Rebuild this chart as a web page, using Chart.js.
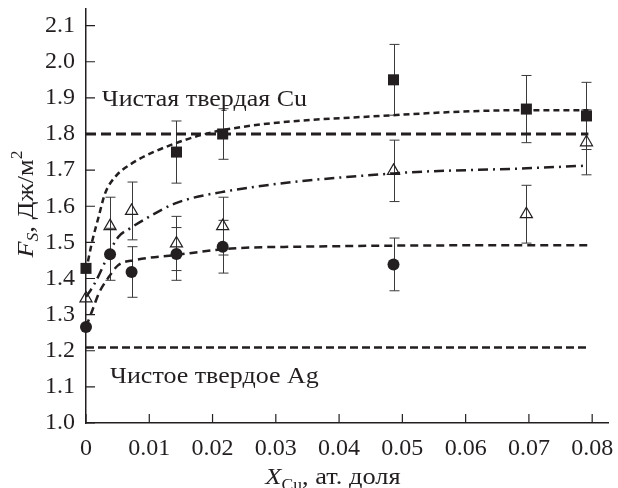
<!DOCTYPE html>
<html lang="ru">
<head>
<meta charset="UTF-8">
<title>F_S vs X_Cu</title>
<script src="https://cdn.jsdelivr.net/npm/chart.js"></script>
<style>
  html, body { margin: 0; padding: 0; background: #fff; }
</style>
</head>
<body>
<canvas id="chart" width="618" height="488"></canvas>
<script>
// axis ticks
const xTicks = [0, 0.01, 0.02, 0.03, 0.04, 0.05, 0.06, 0.07, 0.08];
const yTicks = [1.0, 1.1, 1.2, 1.3, 1.4, 1.5, 1.6, 1.7, 1.8, 1.9, 2.0, 2.1];

// measured points (squares, triangles, circles) with error half-widths
const sqX = [0, 0.0143, 0.0216, 0.0486, 0.0696, 0.0791];
const sqY = [1.428, 1.75, 1.80, 1.95, 1.869, 1.85];
const sqErr = [0, 0.086, 0.07, 0.098, 0.093, 0.093];

const triX = [0, 0.0038, 0.0072, 0.0143, 0.0216, 0.0486, 0.0696, 0.0791];
const triY = [1.345, 1.545, 1.587, 1.497, 1.545, 1.698, 1.578, 1.777];
const triErr = [0, 0.08, 0.08, 0.075, 0.08, 0.085, 0.08, 0.09];

const ciX = [0, 0.0038, 0.0072, 0.0143, 0.0216, 0.0486];
const ciY = [1.266, 1.467, 1.418, 1.468, 1.488, 1.439];
const ciErr = [0, 0.072, 0.07, 0.073, 0.073, 0.073];

// fitted curves
const sqFitX = [0, 0.0009, 0.002, 0.003, 0.0046, 0.0072, 0.0141, 0.0217, 0.0486, 0.0696, 0.0794];
const sqFitY = [1.42, 1.497, 1.571, 1.635, 1.681, 1.718, 1.774, 1.811, 1.852, 1.866, 1.866];

const triFitX = [0, 0.0012, 0.0051, 0.0069, 0.0095, 0.0141, 0.0217, 0.0486, 0.0696, 0.0786];
const triFitY = [1.349, 1.381, 1.515, 1.538, 1.566, 1.608, 1.640, 1.691, 1.705, 1.712];

const ciFitX = [0, 0.0012, 0.002, 0.0036, 0.0051, 0.0077, 0.0141, 0.023, 0.0338, 0.0705, 0.0794];
const ciFitY = [1.266, 1.321, 1.358, 1.404, 1.437, 1.451, 1.465, 1.483, 1.488, 1.492, 1.492];

// pure metal reference levels
const refX = [0, 0.0794];
const cuLevel = [1.80, 1.80];
const agLevel = [1.209, 1.209];
const refLabels = ['Чистая твердая Cu', 'Чистое твердое Ag'];
const refLabelX = [0.0025, 0.0038];
const refLabelY = [1.894, 1.127];

const INK = '#231f20';
const SERIF = "'Liberation Serif', serif";

function pts(xs, ys) {
    return xs.map((v, i) => ({ x: v, y: ys[i] }));
}

function curve(xs, ys, dash, width) {
    return {
        data: pts(xs, ys),
        showLine: true,
        borderColor: INK,
        borderWidth: width,
        borderDash: dash,
        pointRadius: 0,
        cubicInterpolationMode: 'monotone',
        fill: false,
        clip: false
    };
}

// draws text stretched horizontally (the figure's serif face is a bit wider)
function wideText(ctx, text, x0, y0, sx) {
    ctx.save();
    ctx.translate(x0, y0);
    ctx.scale(sx, 1);
    ctx.fillText(text, 0, 0);
    const w = ctx.measureText(text).width * sx;
    ctx.restore();
    return w;
}

const decor = {
    id: 'decor',
    beforeDatasetsDraw(chart) {
        const { ctx, scales: { x, y } } = chart;
        ctx.save();
        ctx.strokeStyle = '#3a3a3a';
        ctx.lineWidth = 1;
        [[sqX, sqY, sqErr], [triX, triY, triErr], [ciX, ciY, ciErr]].forEach(([xs, ys, es]) => {
            xs.forEach((xv, i) => {
                if (!es[i]) return;
                const px = Math.round(x.getPixelForValue(xv)) + 0.5;
                const top = y.getPixelForValue(ys[i] + es[i]);
                const bot = y.getPixelForValue(ys[i] - es[i]);
                ctx.beginPath();
                ctx.moveTo(px, top); ctx.lineTo(px, bot);
                ctx.moveTo(px - 5, top); ctx.lineTo(px + 5, top);
                ctx.moveTo(px - 5, bot); ctx.lineTo(px + 5, bot);
                ctx.stroke();
            });
        });
        ctx.restore();
    },
    afterDraw(chart) {
        const { ctx, chartArea: a, scales: { x, y } } = chart;
        ctx.save();
        // inward tick marks
        ctx.strokeStyle = INK;
        ctx.lineWidth = 1.2;
        ctx.beginPath();
        yTicks.forEach(v => {
            const py = y.getPixelForValue(v);
            ctx.moveTo(a.left, py); ctx.lineTo(a.left + 9, py);
        });
        xTicks.forEach(v => {
            const px = x.getPixelForValue(v);
            ctx.moveTo(px, a.bottom); ctx.lineTo(px, a.bottom - 9);
        });
        ctx.stroke();

        // reference level labels
        ctx.fillStyle = INK;
        ctx.font = '23px ' + SERIF;
        ctx.textBaseline = 'middle';
        ctx.textAlign = 'left';
        refLabels.forEach((t, i) => {
            wideText(ctx, t, x.getPixelForValue(refLabelX[i]), y.getPixelForValue(refLabelY[i]), 1.13);
        });

        // axis titles with sub/superscripts
        ctx.textBaseline = 'alphabetic';
        const drawRich = (parts, x0, y0) => {
            let cx = x0;
            parts.forEach(p => {
                ctx.font = p.f;
                cx += wideText(ctx, p.t, cx, y0 + p.dy, 1.1);
            });
        };
        const widthOf = parts => parts.reduce((s, p) => { ctx.font = p.f; return s + ctx.measureText(p.t).width * 1.1; }, 0);

        const yTitle = [
            { t: 'F', f: 'italic 24px ' + SERIF, dy: 0 },
            { t: 'S', f: 'italic 16px ' + SERIF, dy: 5 },
            { t: ', Дж/м', f: '24px ' + SERIF, dy: 0 },
            { t: '2', f: '16px ' + SERIF, dy: -11 }
        ];
        ctx.save();
        ctx.translate(33, 204);
        ctx.rotate(-Math.PI / 2);
        drawRich(yTitle, -widthOf(yTitle) / 2, 0);
        ctx.restore();

        const xTitle = [
            { t: 'X', f: 'italic 24px ' + SERIF, dy: 0 },
            { t: 'Cu', f: '16px ' + SERIF, dy: 6 },
            { t: ', ат. доля', f: '24px ' + SERIF, dy: 0 }
        ];
        drawRich(xTitle, 333 - widthOf(xTitle) / 2, 484);
        ctx.restore();
    }
};

new Chart(document.getElementById('chart'), {
    type: 'scatter',
    data: {
        datasets: [
            curve(refX, cuLevel, [10, 5], 3),
            curve(refX, agLevel, [8, 4], 2.5),
            curve(sqFitX, sqFitY, [6, 4], 2.5),
            curve(triFitX, triFitY, [10, 5, 2, 5], 2.5),
            curve(ciFitX, ciFitY, [8, 5], 2.5),
            {
                data: pts(sqX, sqY),
                pointStyle: 'rect',
                pointRadius: 7.8,
                backgroundColor: INK,
                borderColor: INK,
                borderWidth: 0,
                clip: false
            },
            {
                data: pts(triX, triY),
                pointStyle: 'triangle',
                pointRadius: 7,
                backgroundColor: 'rgba(0,0,0,0)',
                borderColor: INK,
                borderWidth: 1.2,
                clip: false
            },
            {
                data: pts(ciX, ciY),
                pointStyle: 'circle',
                pointRadius: 6,
                backgroundColor: INK,
                borderColor: INK,
                borderWidth: 0,
                clip: false
            }
        ]
    },
    options: {
        responsive: false,
        animation: false,
        events: [],
        layout: { padding: { top: 9, right: 10, left: 0, bottom: 0 } },
        plugins: {
            legend: { display: false },
            tooltip: { enabled: false }
        },
        scales: {
            x: {
                type: 'linear',
                min: 0,
                max: 0.0825,
                afterFit: s => { s.height = 65; s.paddingLeft = 0; s.paddingRight = 0; },
                afterBuildTicks: s => { s.ticks = xTicks.map(v => ({ value: v })); },
                grid: { display: false, drawTicks: false },
                border: { display: true, color: INK, width: 1.5 },
                ticks: {
                    padding: 11,
                    color: INK,
                    font: { family: SERIF, size: 24 },
                    maxRotation: 0,
                    autoSkip: false,
                    callback: v => v === 0 ? '0' : v.toFixed(2)
                }
            },
            y: {
                type: 'linear',
                min: 1.0,
                max: 2.146,
                afterFit: s => { s.width = 86; s.paddingTop = 0; s.paddingBottom = 0; },
                afterBuildTicks: s => { s.ticks = yTicks.map(v => ({ value: v })); },
                grid: { display: false, drawTicks: false },
                border: { display: true, color: INK, width: 1.5 },
                ticks: {
                    padding: 11,
                    color: INK,
                    font: { family: SERIF, size: 24 },
                    autoSkip: false,
                    callback: v => v.toFixed(1)
                }
            }
        }
    },
    plugins: [decor]
});
</script>
</body>
</html>
